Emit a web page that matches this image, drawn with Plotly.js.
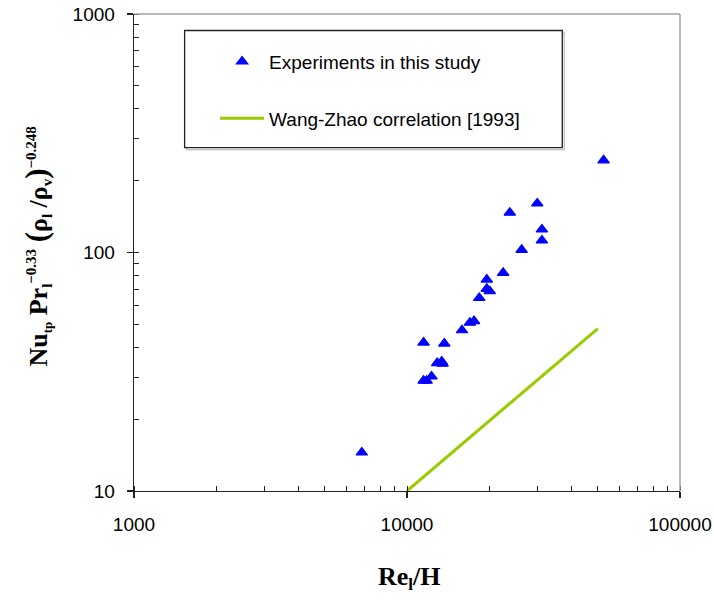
<!DOCTYPE html>
<html>
<head>
<meta charset="utf-8">
<script src="https://cdn.plot.ly/plotly-3.0.1.min.js"></script>
<style>
  html, body { margin: 0; padding: 0; background: #fff; }
  #chart { width: 714px; height: 602px; }
</style>
</head>
<body>
<div id="chart"></div>
<script>
// Two-phase heat transfer data: Re_l/H vs. Nu_tp Pr_l^-0.33 (rho_l/rho_v)^-0.248
const expRe = [6830, 11500, 11500, 11800, 12300, 12900, 13400, 13500, 13700, 15900,
               17000, 17600, 18400, 19600, 19600, 20100, 22500, 23800, 26300, 30000,
               31200, 31200, 52500];
const expNu = [14.5, 41.9, 29.0, 29.0, 30.2, 34.4, 34.9, 34.2, 41.5, 47.2,
               50.8, 51.6, 64.5, 77.0, 70.4, 68.8, 82.2, 146.8, 102.6, 160.6,
               124.9, 112.3, 243.6];

// Wang-Zhao correlation [1993]
const corrRe = [10000, 50000];
const corrNu = [10, 48];

const xTickVals = [1000, 10000, 100000];
const xTickText = ['1000', '10000', '100000'];
const yTickVals = [10, 100, 1000];
const yTickText = ['10', '100', '1000'];

const tickFont = { family: 'Liberation Sans, Arial, sans-serif', size: 19, color: '#000' };
const serif = 'Liberation Serif, Times New Roman, serif';

const traces = [
  {
    x: expRe, y: expNu, type: 'scatter', mode: 'markers',
    name: 'Experiments in this study', legendgroup: 'a',
    marker: { symbol: 'triangle-up', size: 10, color: '#0000FF',
              line: { color: '#0000FF', width: 1.2 } }
  },
  {
    x: corrRe, y: corrNu, type: 'scatter', mode: 'lines',
    name: 'Wang-Zhao correlation [1993]', legendgroup: 'b',
    line: { color: '#99CC00', width: 3 }
  }
];

const majorAxis = (vals, text) => ({
  type: 'log', tickmode: 'array', tickvals: vals, ticktext: text,
  ticks: 'outside', ticklen: 6, tickwidth: 1.3, tickcolor: '#222',
  showline: true, linecolor: '#222', linewidth: 1.3,
  showgrid: false, zeroline: false, tickfont: tickFont,
  minor: { ticks: 'inside', ticklen: 5, tickwidth: 1, tickcolor: '#222', dtick: 'D1', showgrid: false }
});

const innerMajor = (vals, overlay, anchor, side) => ({
  type: 'log', overlaying: overlay, anchor: anchor, side: side,
  tickmode: 'array', tickvals: vals, ticks: 'inside', ticklen: 6, tickwidth: 1.3,
  tickcolor: '#222', showticklabels: false, showline: false, showgrid: false, zeroline: false
});

const xa = majorAxis(xTickVals, xTickText);
xa.range = [3, 5];
xa.ticklabelstandoff = 10;
const ya = majorAxis(yTickVals, yTickText);
ya.range = [1, 3];
ya.ticklabelstandoff = 8;

const xa2 = innerMajor(xTickVals, 'x', 'y', 'bottom');
xa2.range = [3, 5];
const ya2 = innerMajor(yTickVals, 'y', 'x', 'left');
ya2.range = [1, 3];

const yTitle =
  '<b>Nu<sub><span style="font-size:13px">tp</span></sub> ' +
  'Pr<sub><span style="font-size:15px">l</span></sub>' +
  '<sup><span style="font-size:15px">\u22120.33</span></sup> ' +
  '<span style="font-size:31px">(</span>\u03c1<sub><span style="font-size:15px">l</span></sub>' +
  ' /\u03c1<sub><span style="font-size:15px">v</span></sub>' +
  '<span style="font-size:31px">)</span>' +
  '<sup><span style="font-size:15px">\u22120.248</span></sup></b>';

const layout = {
  width: 714, height: 602,
  margin: { l: 134, r: 34, t: 14, b: 111 },
  paper_bgcolor: '#fff', plot_bgcolor: '#fff',
  xaxis: xa, yaxis: ya, xaxis2: xa2, yaxis2: ya2,
  showlegend: true,
  legend: {
    x: 0.1485, y: 0.940, xanchor: 'left', yanchor: 'top',
    bgcolor: 'rgba(0,0,0,0)', borderwidth: 0,
    font: { family: 'Liberation Sans, Arial, sans-serif', size: 19, color: '#000' },
    traceorder: 'grouped', tracegroupgap: 29, itemwidth: 44
  },
  shapes: [
    // frame on top and right
    { type: 'line', xref: 'paper', yref: 'paper', x0: 0, x1: 1, y0: 1, y1: 1,
      line: { color: '#A0A0A0', width: 1.5 } },
    { type: 'line', xref: 'paper', yref: 'paper', x0: 1, x1: 1, y0: 0, y1: 1,
      line: { color: '#A0A0A0', width: 1.5 } },
    // legend box with a soft shadow
    { type: 'rect', xref: 'paper', yref: 'paper', layer: 'below',
      x0: 0.0964, x1: 0.7881, y0: 0.7156, y1: 0.9612,
      line: { color: '#C8C8C8', width: 1.5 }, fillcolor: 'rgba(0,0,0,0)' },
    { type: 'rect', xref: 'paper', yref: 'paper', layer: 'below',
      x0: 0.0927, x1: 0.7844, y0: 0.7198, y1: 0.9654,
      line: { color: '#222', width: 1.3 }, fillcolor: '#fff' }
  ],
  annotations: [
    { xref: 'paper', yref: 'paper', x: 0.505, y: -0.183, xanchor: 'center', yanchor: 'middle',
      showarrow: false, font: { family: serif, size: 26, color: '#000' },
      text: '<b>Re<sub><span style="font-size:17px">l</span></sub>/H</b>' },
    { xref: 'paper', yref: 'paper', x: -0.178, y: 0.512, xanchor: 'center', yanchor: 'middle',
      showarrow: false, textangle: -90, font: { family: serif, size: 26, color: '#000' },
      text: yTitle }
  ]
};

Plotly.newPlot('chart', traces, layout, { displayModeBar: false, staticPlot: true });
</script>
</body>
</html>
